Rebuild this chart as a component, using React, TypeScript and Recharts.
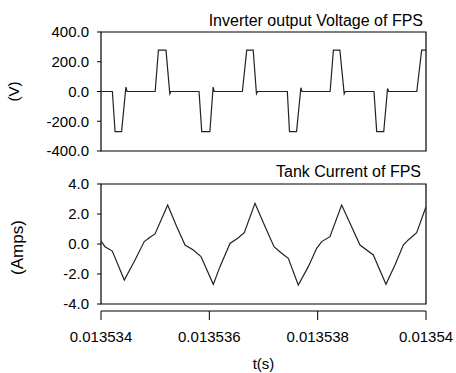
import { LineChart, Line, XAxis, YAxis, ReferenceArea } from "recharts"

const T0 = 0.013534
const T1 = 0.01354

// time offsets from T0, in microseconds
const voltageTimeUs = [
  0, 0.21, 0.26, 0.38, 0.46, 0.48, 1.0, 1.06, 1.2, 1.27, 1.29,
  1.81, 1.86, 2.01, 2.07, 2.09, 2.61, 2.69, 2.81, 2.87, 2.89,
  3.44, 3.48, 3.61, 3.69, 3.71, 4.23, 4.29, 4.41, 4.49, 4.51,
  5.04, 5.09, 5.22, 5.29, 5.31, 5.83, 5.92, 6.0,
]
const voltageValues = [
  0, 0, -270, -270, 30, 0, 0, 278, 278, -15, 0,
  0, -270, -270, 30, 0, 0, 278, 278, -15, 0,
  0, -270, -270, 25, 0, 0, 278, 278, -15, 0,
  0, -270, -270, 20, 0, 0, 278, 278,
]

const currentTimeUs = [
  0, 0.074, 0.209, 0.43, 0.628, 0.799, 0.905, 0.997, 1.231, 1.397,
  1.551, 1.704, 1.846, 2.073, 2.197, 2.381, 2.524, 2.645, 2.843, 3.028,
  3.194, 3.323, 3.458, 3.642, 3.827, 3.982, 4.074, 4.227, 4.443, 4.597,
  4.781, 5.027, 5.261, 5.427, 5.581, 5.673, 5.828, 6.0,
]
const currentValues = [
  0.2, -0.18, -0.47, -2.4, -1.07, 0.16, 0.45, 0.67, 2.6, 1.16,
  -0.07, -0.4, -0.84, -2.69, -1.51, 0.04, 0.38, 0.76, 2.71, 1.16,
  -0.18, -0.58, -0.96, -2.73, -1.51, -0.29, 0.16, 0.49, 2.6, 1.38,
  -0.07, -0.73, -2.69, -1.4, -0.07, 0.27, 0.76, 2.49,
]

const timeTicks = [0.013534, 0.013536, 0.013538, 0.01354]
const voltageTicks = [400, 200, 0, -200, -400]
const currentTicks = [4, 2, 0, -2, -4]

const voltageData = voltageTimeUs.map((u, i) => ({ t: T0 + u * 1e-6, v: voltageValues[i] }))
const currentData = currentTimeUs.map((u, i) => ({ t: T0 + u * 1e-6, a: currentValues[i] }))

const FONT = "'Liberation Sans', Arial, sans-serif"
const tickStyle = { fill: "#000", fontSize: 15, fontFamily: FONT }

export default function App() {
  return (
    <div style={{ position: "absolute", left: 0, top: 0, width: 456, height: 373, background: "#fff", fontFamily: FONT }}>
      <div style={{ position: "absolute", right: 33, top: 11, fontSize: 16, lineHeight: "20px", color: "#000" }}>
        Inverter output Voltage of FPS
      </div>
      <div style={{ position: "absolute", right: 35, top: 162, fontSize: 16, lineHeight: "20px", color: "#000" }}>
        Tank Current of FPS
      </div>

      <div style={{ position: "absolute", left: 0, top: 0 }}>
        <LineChart width={456} height={160} data={voltageData} margin={{ top: 32, right: 30, bottom: 9, left: 0 }}>
          <XAxis dataKey="t" type="number" domain={[T0, T1]} allowDataOverflow hide />
          <YAxis
            type="number"
            domain={[-400, 400]}
            ticks={voltageTicks}
            width={101}
            axisLine={false}
            tickLine={{ stroke: "#000" }}
            tickSize={4}
            tickMargin={8}
            tick={tickStyle}
            tickFormatter={(v: number) => v.toFixed(1)}
            label={{ value: "(V)", angle: -90, position: "insideLeft", offset: 14, style: { textAnchor: "middle", fontSize: 15, fill: "#000", fontFamily: FONT } }}
          />
          <ReferenceArea x1={T0} x2={T1} y1={-400} y2={400} fill="none" stroke="#000" strokeWidth={1.2} />
          <Line type="linear" dataKey="v" stroke="#222" strokeWidth={1.2} dot={false} isAnimationActive={false} />
        </LineChart>
      </div>

      <div style={{ position: "absolute", left: 0, top: 160 }}>
        <LineChart width={456} height={213} data={currentData} margin={{ top: 24, right: 30, bottom: 0, left: 0 }}>
          <XAxis
            dataKey="t"
            type="number"
            domain={[T0, T1]}
            allowDataOverflow
            ticks={timeTicks}
            height={62}
            axisLine={{ stroke: "#000" }}
            tickLine={{ stroke: "#000" }}
            tickSize={9}
            tickMargin={11}
            tick={tickStyle}
            tickFormatter={(v: number) => String(Number(v.toFixed(6)))}
            label={{ value: "t(s)", position: "insideBottom", offset: 4, style: { fontSize: 15, fill: "#000", fontFamily: FONT } }}
          />
          <YAxis
            type="number"
            domain={[-4, 4]}
            ticks={currentTicks}
            width={101}
            padding={{ bottom: 7 }}
            axisLine={false}
            tickLine={{ stroke: "#000" }}
            tickSize={4}
            tickMargin={8}
            tick={tickStyle}
            tickFormatter={(v: number) => v.toFixed(1)}
            label={{ value: "(Amps)", angle: -90, position: "insideLeft", offset: 17, style: { textAnchor: "middle", fontSize: 17, fill: "#000", fontFamily: FONT } }}
          />
          <ReferenceArea x1={T0} x2={T1} y1={-4} y2={4} fill="none" stroke="#000" strokeWidth={1.2} />
          <Line type="linear" dataKey="a" stroke="#222" strokeWidth={1.2} dot={false} isAnimationActive={false} />
        </LineChart>
      </div>
    </div>
  )
}
